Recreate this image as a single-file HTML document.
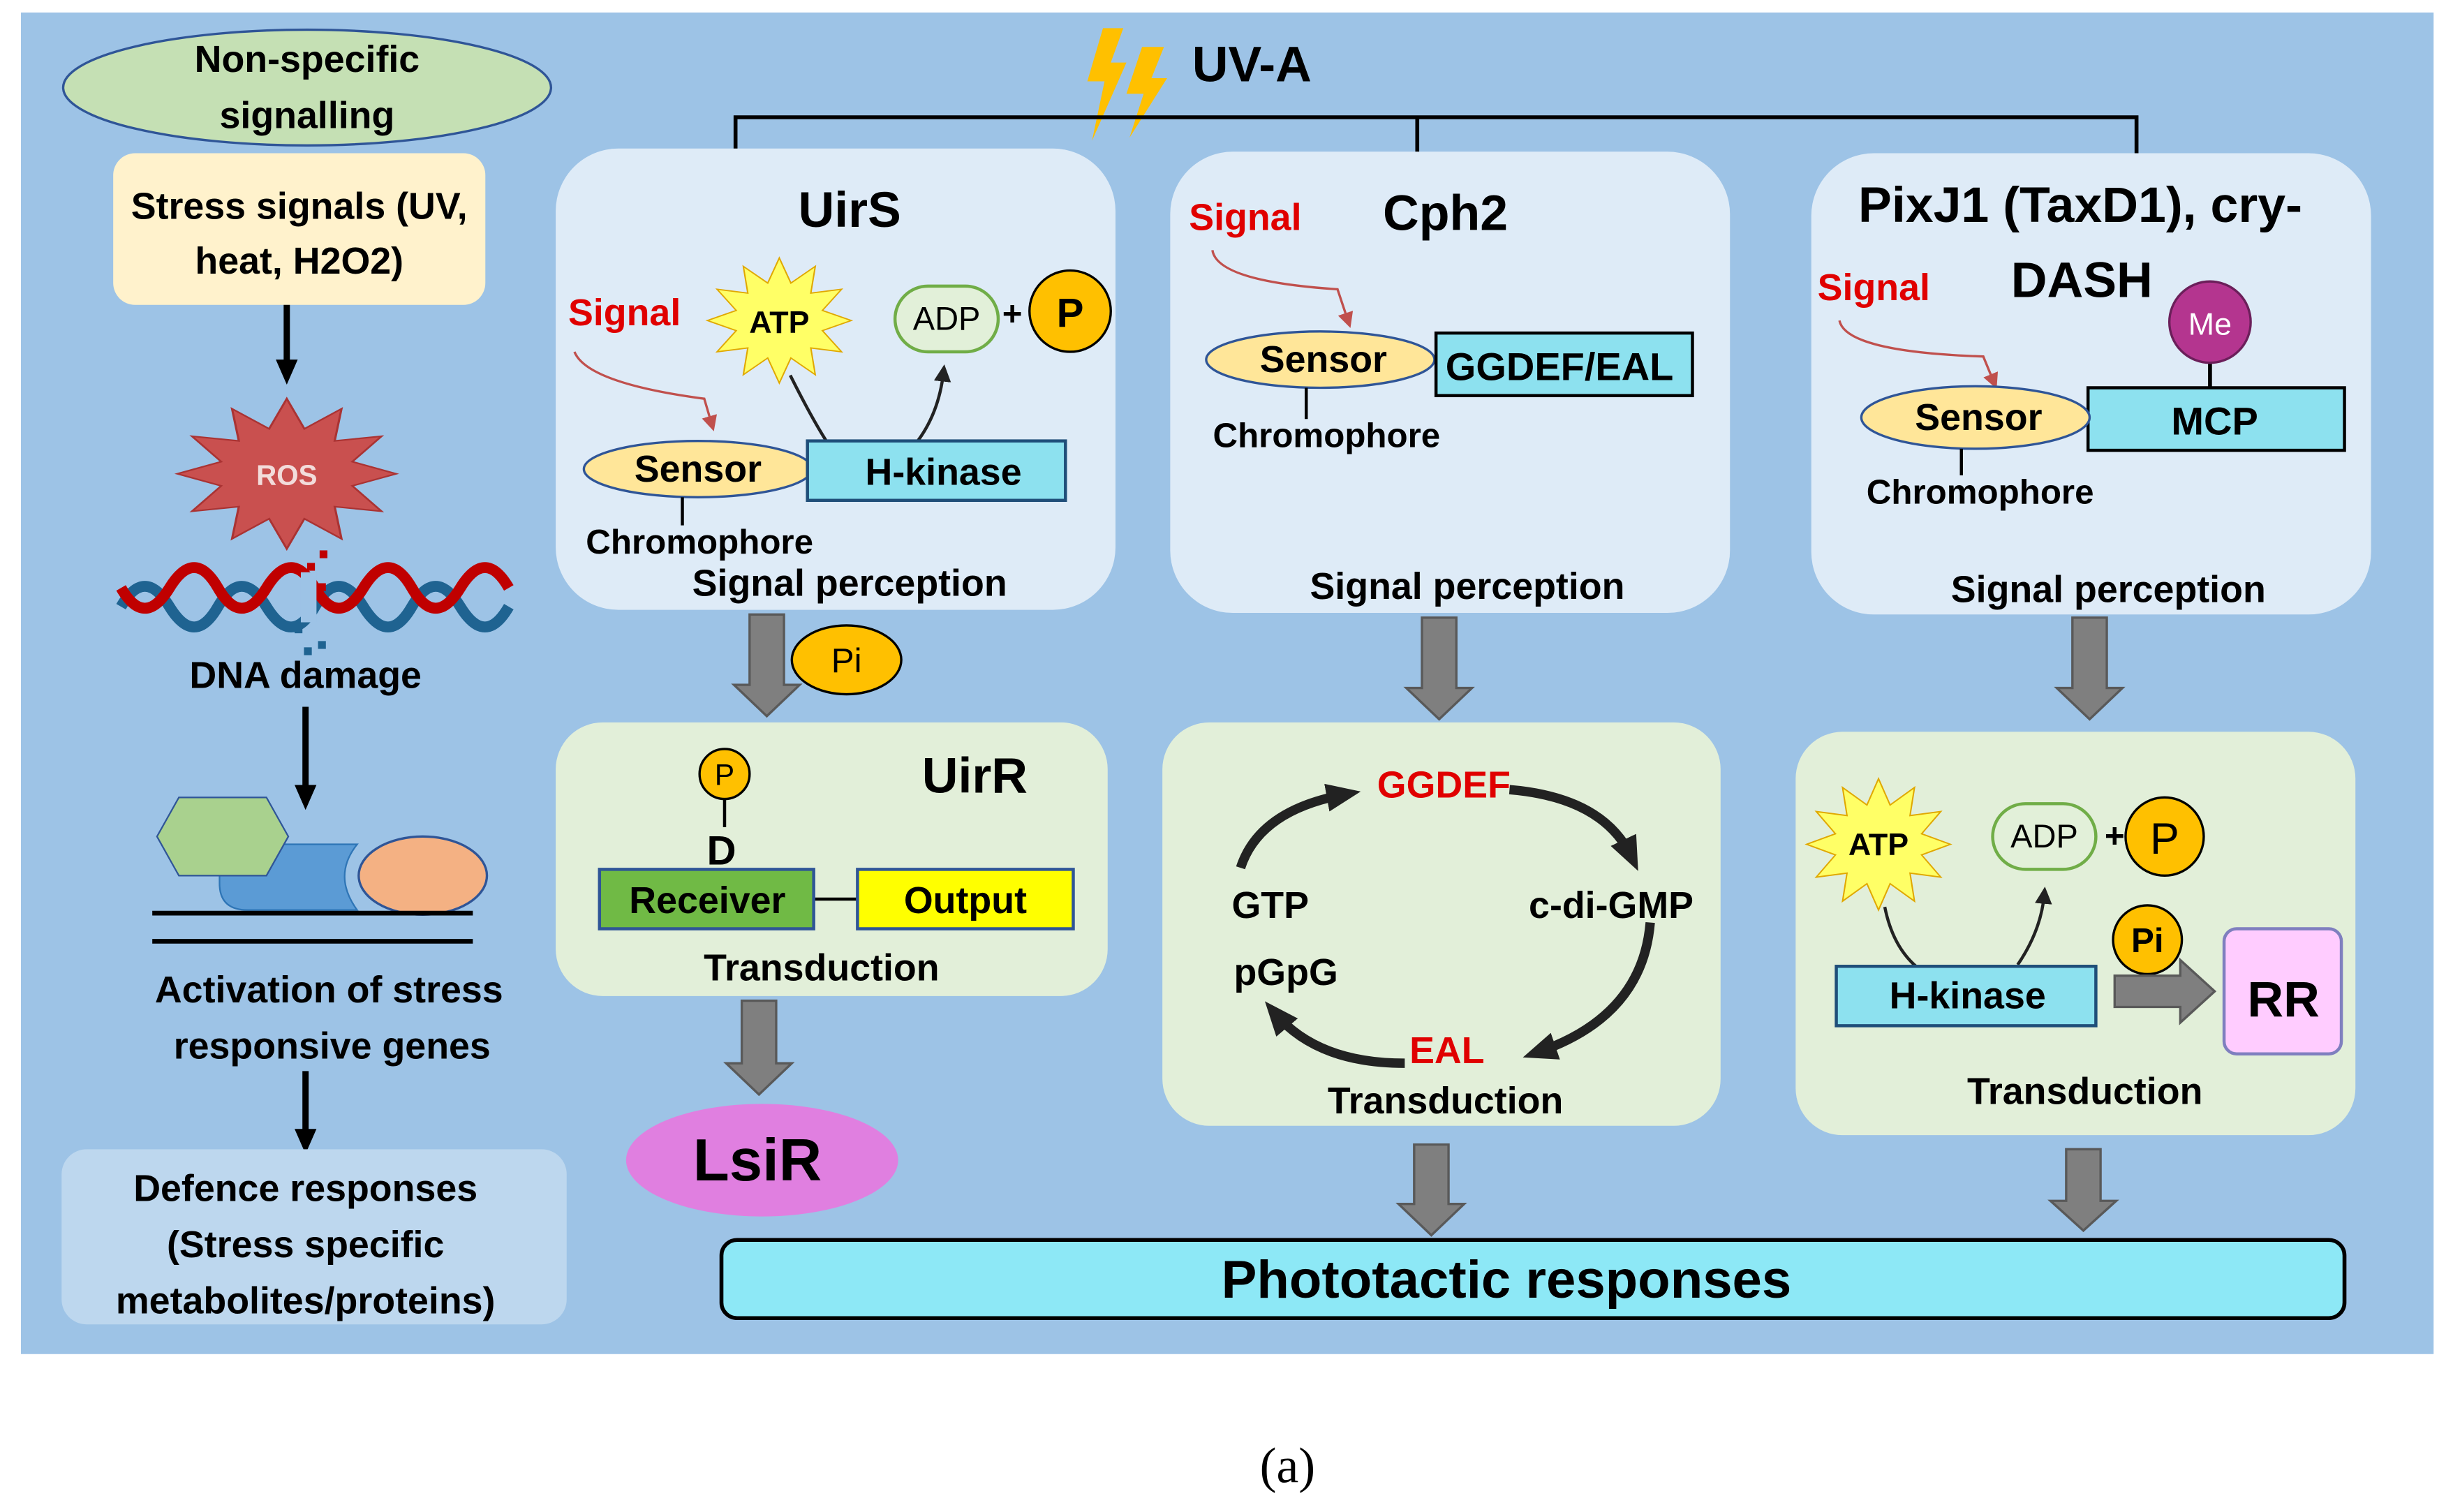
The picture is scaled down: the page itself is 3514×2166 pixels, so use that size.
<!DOCTYPE html>
<html><head><meta charset="utf-8"><style>
html,body{margin:0;padding:0;background:#fff;}
svg{display:block;}
text{font-family:"Liberation Sans",sans-serif;font-weight:bold;}
</style></head><body>
<svg width="3514" height="2166" viewBox="0 0 1568 967" xmlns="http://www.w3.org/2000/svg">
<defs>
<polygon id="star" points="1,0 .599,.161 .866,.5 .438,.438 .5,.866 .161,.599 0,1 -.161,.599 -.5,.866 -.438,.438 -.866,.5 -.599,.161 -1,0 -.599,-.161 -.866,-.5 -.438,-.438 -.5,-.866 -.161,-.599 0,-1 .161,-.599 .5,-.866 .438,-.438 .866,-.5 .599,-.161"/>
<marker id="ah" markerWidth="16" markerHeight="16" refX="8" refY="8" orient="auto" markerUnits="userSpaceOnUse"><path d="M0,1 L16,8 L0,15 z" fill="#000"/></marker>
<marker id="ahc" markerWidth="22" markerHeight="22" refX="12" refY="11" orient="auto" markerUnits="userSpaceOnUse"><path d="M0,2 L22,11 L0,20 z" fill="#222"/></marker>
<marker id="ahs" markerWidth="11" markerHeight="11" refX="6" refY="5.5" orient="auto" markerUnits="userSpaceOnUse"><path d="M0,0 L11,5.5 L0,11 z" fill="#222"/></marker>
<marker id="ahr" markerWidth="10" markerHeight="10" refX="6" refY="5" orient="auto" markerUnits="userSpaceOnUse"><path d="M0,0 L10,5 L0,10 z" fill="#c0504d"/></marker>
</defs>
<rect x="13" y="8" width="1543" height="858" fill="#9dc3e6"/>

<!-- left column -->
<ellipse cx="196" cy="56" rx="156" ry="37" fill="#c5e0b4" stroke="#2f5597" stroke-width="1.5"/>
<text x="196" y="46" font-size="24" text-anchor="middle">Non-specific</text>
<text x="196" y="82" font-size="24" text-anchor="middle">signalling</text>
<rect x="72" y="98" width="238" height="97" rx="14" fill="#fff2cc"/>
<text x="191" y="140" font-size="24" text-anchor="middle">Stress signals (UV,</text>
<text x="191" y="175" font-size="24" text-anchor="middle">heat, H2O2)</text>
<line x1="183" y1="195" x2="183" y2="238" stroke="#000" stroke-width="4" marker-end="url(#ah)"/>
<use href="#star" transform="translate(183,303) scale(70,48)" fill="#c9504f" stroke="#a33" stroke-width="0.02"/>
<text x="183" y="310" font-size="18" fill="#f2dcdb" text-anchor="middle">ROS</text>
<path d="M77,388 q15,-26 31,0 t31,0 t31,0 t31,0 t31,0 t31,0 t31,0 t31,0" fill="none" stroke="#1f6391" stroke-width="7"/>
<path d="M77,376 q15,26 31,0 t31,0 t31,0 t31,0 t31,0 t31,0 t31,0 t31,0" fill="none" stroke="#c00000" stroke-width="7"/>
<rect x="192" y="366" width="10" height="32" fill="#9dc3e6"/>
<rect x="204" y="352" width="5" height="5" fill="#c00000"/><rect x="196" y="360" width="5" height="5" fill="#c00000"/><rect x="203" y="373" width="5" height="5" fill="#c00000"/>
<rect x="188" y="400" width="5" height="5" fill="#1f6391"/><rect x="203" y="410" width="5" height="5" fill="#1f6391"/><rect x="194" y="414" width="5" height="5" fill="#1f6391"/>
<text x="195" y="440" font-size="24" text-anchor="middle">DNA damage</text>
<line x1="195" y1="452" x2="195" y2="510" stroke="#000" stroke-width="4" marker-end="url(#ah)"/>
<path d="M140,540 L228,540 Q212,560 228,582 L158,582 Q140,582 140,565 Z" fill="#5b9bd5" stroke="#2e75b6"/>
<polygon points="100,535 114,510 170,510 184,535 170,560 114,560" fill="#a9d18e" stroke="#2f5597"/>
<ellipse cx="270" cy="560" rx="41" ry="25" fill="#f4b183" stroke="#2f5597" stroke-width="1.5"/>
<line x1="97" y1="584" x2="302" y2="584" stroke="#000" stroke-width="3"/>
<line x1="97" y1="602" x2="302" y2="602" stroke="#000" stroke-width="3"/>
<text x="210" y="641" font-size="24" text-anchor="middle">Activation of stress</text>
<text x="212" y="677" font-size="24" text-anchor="middle">responsive genes</text>
<line x1="195" y1="685" x2="195" y2="730" stroke="#000" stroke-width="4" marker-end="url(#ah)"/>
<rect x="39" y="735" width="323" height="112" rx="16" fill="#bdd7ee"/>
<text x="195" y="768" font-size="24" text-anchor="middle">Defence responses</text>
<text x="195" y="804" font-size="24" text-anchor="middle">(Stress specific</text>
<text x="195" y="840" font-size="24" text-anchor="middle">metabolites/proteins)</text>

<!-- UV-A -->
<polygon points="705,18 718,18 710,40 720,40 698,90 706,52 695,52" fill="#ffc000"/>
<polygon points="730,30 744,30 736,50 746,50 722,88 731,60 720,60" fill="#ffc000"/>
<text x="762" y="52" font-size="32">UV-A</text>
<path d="M470,112 V75 H1366 V110 M906,75 V110" fill="none" stroke="#000" stroke-width="2.5"/>

<!-- top panels -->
<rect x="355" y="95" width="358" height="295" rx="40" fill="#deebf7"/>
<rect x="748" y="97" width="358" height="295" rx="40" fill="#deebf7"/>
<rect x="1158" y="98" width="358" height="295" rx="40" fill="#deebf7"/>

<!-- UirS -->
<text x="543" y="145" font-size="32" text-anchor="middle">UirS</text>
<text x="363" y="208" font-size="24" fill="#e00000">Signal</text>
<use href="#star" transform="translate(498,205) scale(46,40)" fill="#ffff66" stroke="#e0a800" stroke-width="0.02"/>
<text x="498" y="213" font-size="20" text-anchor="middle">ATP</text>
<rect x="572" y="183" width="66" height="42" rx="21" fill="#e2f0d9" stroke="#70ad47" stroke-width="2"/>
<text x="605" y="211" font-size="21" style="font-weight:normal" text-anchor="middle">ADP</text>
<text x="647" y="208" font-size="22" text-anchor="middle">+</text>
<circle cx="684" cy="199" r="26" fill="#ffc000" stroke="#000" stroke-width="1.5"/>
<text x="684" y="209" font-size="26" text-anchor="middle">P</text>
<path d="M367,225 Q375,245 450,255 L455,272" fill="none" stroke="#c0504d" stroke-width="1.5" marker-end="url(#ahr)"/>
<path d="M505,240 Q520,270 530,285" fill="none" stroke="#222" stroke-width="2"/>
<path d="M585,284 Q600,265 603,238" fill="none" stroke="#222" stroke-width="2" marker-end="url(#ahs)"/>
<ellipse cx="446" cy="300" rx="73" ry="18" fill="#ffe699" stroke="#2f5597" stroke-width="1.5"/>
<text x="446" y="308" font-size="24" text-anchor="middle">Sensor</text>
<rect x="516" y="282" width="165" height="38" fill="#8de1ef" stroke="#1f4e79" stroke-width="2"/>
<text x="603" y="310" font-size="24" text-anchor="middle">H-kinase</text>
<line x1="436" y1="318" x2="436" y2="336" stroke="#000" stroke-width="2"/>
<text x="447" y="354" font-size="22" text-anchor="middle">Chromophore</text>
<text x="543" y="381" font-size="24" text-anchor="middle">Signal perception</text>

<!-- Cph2 -->
<text x="924" y="147" font-size="32" text-anchor="middle">Cph2</text>
<text x="760" y="147" font-size="24" fill="#e00000">Signal</text>
<path d="M775,160 Q778,180 855,185 L862,206" fill="none" stroke="#c0504d" stroke-width="1.5" marker-end="url(#ahr)"/>
<ellipse cx="844" cy="230" rx="73" ry="18" fill="#ffe699" stroke="#2f5597" stroke-width="1.5"/>
<text x="846" y="238" font-size="24" text-anchor="middle">Sensor</text>
<rect x="918" y="213" width="164" height="40" fill="#8de1ef" stroke="#000" stroke-width="2"/>
<text x="997" y="243" font-size="25" text-anchor="middle">GGDEF/EAL</text>
<line x1="835" y1="248" x2="835" y2="268" stroke="#000" stroke-width="2"/>
<text x="848" y="286" font-size="22" text-anchor="middle">Chromophore</text>
<text x="938" y="383" font-size="24" text-anchor="middle">Signal perception</text>

<!-- PixJ1 -->
<text x="1330" y="142" font-size="32" text-anchor="middle">PixJ1 (TaxD1), cry-</text>
<text x="1331" y="190" font-size="32" text-anchor="middle">DASH</text>
<text x="1162" y="192" font-size="24" fill="#e00000">Signal</text>
<path d="M1176,205 Q1180,225 1268,228 L1275,245" fill="none" stroke="#c0504d" stroke-width="1.5" marker-end="url(#ahr)"/>
<line x1="1413" y1="230" x2="1413" y2="250" stroke="#000" stroke-width="2.5"/>
<circle cx="1413" cy="206" r="26" fill="#b4358f" stroke="#6b1f5a" stroke-width="1.5"/>
<text x="1413" y="214" font-size="20" fill="#fff" style="font-weight:normal" text-anchor="middle">Me</text>
<rect x="1335" y="248" width="164" height="40" fill="#8de1ef" stroke="#000" stroke-width="2"/>
<text x="1416" y="278" font-size="25" text-anchor="middle">MCP</text>
<ellipse cx="1263" cy="267" rx="73" ry="20" fill="#ffe699" stroke="#2f5597" stroke-width="1.5"/>
<text x="1265" y="275" font-size="24" text-anchor="middle">Sensor</text>
<line x1="1254" y1="287" x2="1254" y2="304" stroke="#000" stroke-width="2"/>
<text x="1266" y="322" font-size="22" text-anchor="middle">Chromophore</text>
<text x="1348" y="385" font-size="24" text-anchor="middle">Signal perception</text>

<!-- UirR panel -->
<rect x="355" y="462" width="353" height="175" rx="30" fill="#e2efd9"/>
<circle cx="463" cy="495" r="16" fill="#ffc000" stroke="#000" stroke-width="1.5"/>
<text x="463" y="502" font-size="19" style="font-weight:normal" text-anchor="middle">P</text>
<line x1="463" y1="511" x2="463" y2="529" stroke="#000" stroke-width="2"/>
<text x="461" y="553" font-size="26" text-anchor="middle">D</text>
<text x="623" y="507" font-size="32" text-anchor="middle">UirR</text>
<line x1="520" y1="575" x2="548" y2="575" stroke="#000" stroke-width="2"/>
<rect x="383" y="556" width="137" height="38" fill="#70ba45" stroke="#2f5597" stroke-width="2"/>
<text x="452" y="584" font-size="24" text-anchor="middle">Receiver</text>
<rect x="548" y="556" width="138" height="38" fill="#ffff00" stroke="#2f5597" stroke-width="2"/>
<text x="617" y="584" font-size="24" text-anchor="middle">Output</text>
<text x="525" y="627" font-size="24" text-anchor="middle">Transduction</text>
<ellipse cx="487" cy="742" rx="87" ry="36" fill="#e07fe0"/>
<text x="484" y="755" font-size="38" text-anchor="middle">LsiR</text>

<!-- Cph2 transduction -->
<rect x="743" y="462" width="357" height="258" rx="30" fill="#e2efd9"/>
<g fill="none" stroke="#222" stroke-width="6">
<path d="M793,555 Q805,518 860,508" marker-end="url(#ahc)"/>
<path d="M965,505 Q1025,510 1043,548" marker-end="url(#ahc)"/>
<path d="M1055,590 Q1050,650 983,673" marker-end="url(#ahc)"/>
<path d="M898,680 Q842,680 815,648" marker-end="url(#ahc)"/>
</g>
<text x="923" y="510" font-size="24" fill="#e00000" text-anchor="middle">GGDEF</text>
<text x="812" y="587" font-size="24" text-anchor="middle">GTP</text>
<text x="1030" y="587" font-size="24" text-anchor="middle">c-di-GMP</text>
<text x="822" y="630" font-size="24" text-anchor="middle">pGpG</text>
<text x="925" y="680" font-size="24" fill="#e00000" text-anchor="middle">EAL</text>
<text x="924" y="712" font-size="24" text-anchor="middle">Transduction</text>

<!-- PixJ1 transduction -->
<rect x="1148" y="468" width="358" height="258" rx="30" fill="#e2efd9"/>
<use href="#star" transform="translate(1201,540) scale(46,42)" fill="#ffff66" stroke="#e0a800" stroke-width="0.02"/>
<text x="1201" y="547" font-size="20" text-anchor="middle">ATP</text>
<rect x="1274" y="514" width="66" height="42" rx="21" fill="#e2f0d9" stroke="#70ad47" stroke-width="2"/>
<text x="1307" y="542" font-size="21" style="font-weight:normal" text-anchor="middle">ADP</text>
<text x="1352" y="542" font-size="22" text-anchor="middle">+</text>
<circle cx="1384" cy="535" r="25" fill="#ffc000" stroke="#000" stroke-width="1.5"/>
<text x="1384" y="546" font-size="28" style="font-weight:normal" text-anchor="middle">P</text>
<path d="M1205,580 Q1210,605 1225,618" fill="none" stroke="#222" stroke-width="2"/>
<path d="M1290,617 Q1305,595 1307,572" fill="none" stroke="#222" stroke-width="2" marker-end="url(#ahs)"/>
<circle cx="1373" cy="601" r="22" fill="#ffc000" stroke="#000" stroke-width="1.5"/>
<text x="1373" y="609" font-size="22" text-anchor="middle">Pi</text>
<rect x="1174" y="618" width="166" height="38" fill="#8de1ef" stroke="#1f4e79" stroke-width="2"/>
<text x="1258" y="645" font-size="24" text-anchor="middle">H-kinase</text>
<rect x="1422" y="594" width="75" height="80" rx="8" fill="#ffccff" stroke="#7f7fbf" stroke-width="2"/>
<text x="1460" y="650" font-size="32" text-anchor="middle">RR</text>
<text x="1333" y="706" font-size="24" text-anchor="middle">Transduction</text>

<!-- gray arrows -->
<g fill="#7f7f7f" stroke="#595959" stroke-width="1.5">
<polygon points="479,393 501,393 501,438 511,438 490,458 469,438 479,438"/>
<polygon points="909,395 931,395 931,440 941,440 920,460 899,440 909,440"/>
<polygon points="1325,395 1347,395 1347,440 1357,440 1336,460 1315,440 1325,440"/>
<polygon points="474,640 496,640 496,680 506,680 485,700 464,680 474,680"/>
<polygon points="904,732 926,732 926,770 936,770 915,790 894,770 904,770"/>
<polygon points="1321,735 1343,735 1343,768 1353,768 1332,787 1311,768 1321,768"/>
<polygon points="1352,624 1394,624 1394,614 1416,634 1394,654 1394,644 1352,644"/>
</g>
<ellipse cx="541" cy="422" rx="35" ry="22" fill="#ffc000" stroke="#000" stroke-width="1.5"/>
<text x="541" y="430" font-size="22" style="font-weight:normal" text-anchor="middle">Pi</text>

<!-- Phototactic -->
<rect x="461" y="793" width="1038" height="50" rx="10" fill="#8de8f6" stroke="#000" stroke-width="2.5"/>
<text x="963" y="830" font-size="34" text-anchor="middle">Phototactic responses</text>

<text x="823" y="948" font-size="32" text-anchor="middle" style="font-family:'Liberation Serif',serif;font-weight:normal">(a)</text>
</svg>
</body></html>
